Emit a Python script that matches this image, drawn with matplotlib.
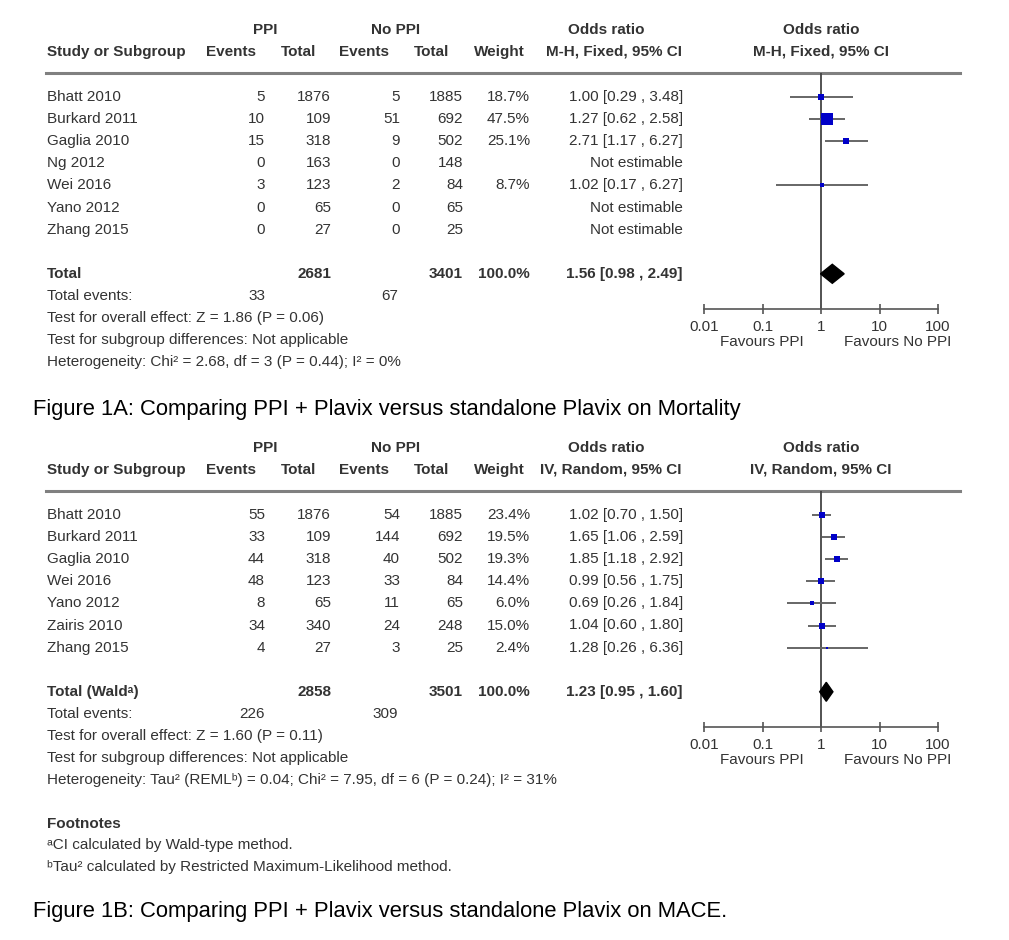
import matplotlib
matplotlib.use('Agg')
import matplotlib.pyplot as plt

plt.rcParams['font.family'] = ['Liberation Sans', 'DejaVu Sans']

# Figure 1A - mortality, M-H fixed
studies_a = ['Bhatt 2010', 'Burkard 2011', 'Gaglia 2010', 'Ng 2012', 'Wei 2016', 'Yano 2012', 'Zhang 2015']
ppi_events_a = [5, 10, 15, 0, 3, 0, 0]
ppi_total_a = [1876, 109, 318, 163, 123, 65, 27]
noppi_events_a = [5, 51, 9, 0, 2, 0, 0]
noppi_total_a = [1885, 692, 502, 148, 84, 65, 25]
weight_a = [18.7, 47.5, 25.1, None, 8.7, None, None]
or_a = [1.00, 1.27, 2.71, None, 1.02, None, None]
lo_a = [0.29, 0.62, 1.17, None, 0.17, None, None]
hi_a = [3.48, 2.58, 6.27, None, 6.27, None, None]
totals_a = [2681, 3401]
events_a = [33, 67]
pooled_a = [1.56, 0.98, 2.49]
stats_a = ['Test for overall effect: Z = 1.86 (P = 0.06)',
           'Test for subgroup differences: Not applicable',
           'Heterogeneity: Chi² = 2.68, df = 3 (P = 0.44); I² = 0%']

# Figure 1B - MACE, IV random
studies_b = ['Bhatt 2010', 'Burkard 2011', 'Gaglia 2010', 'Wei 2016', 'Yano 2012', 'Zairis 2010', 'Zhang 2015']
ppi_events_b = [55, 33, 44, 48, 8, 34, 4]
ppi_total_b = [1876, 109, 318, 123, 65, 340, 27]
noppi_events_b = [54, 144, 40, 33, 11, 24, 3]
noppi_total_b = [1885, 692, 502, 84, 65, 248, 25]
weight_b = [23.4, 19.5, 19.3, 14.4, 6.0, 15.0, 2.4]
or_b = [1.02, 1.65, 1.85, 0.99, 0.69, 1.04, 1.28]
lo_b = [0.70, 1.06, 1.18, 0.56, 0.26, 0.60, 0.26]
hi_b = [1.50, 2.59, 2.92, 1.75, 1.84, 1.80, 6.36]
totals_b = [2858, 3501]
events_b = [226, 309]
pooled_b = [1.23, 0.95, 1.60]
stats_b = ['Test for overall effect: Z = 1.60 (P = 0.11)',
           'Test for subgroup differences: Not applicable',
           'Heterogeneity: Tau² (REMLᵇ) = 0.04; Chi² = 7.95, df = 6 (P = 0.24); I² = 31%']

ticks = [0.01, 0.1, 1, 10, 100]
tick_labels = ['0.01', '0.1', '1', '10', '100']

W, H = 1009, 940
TXT = '#333333'
BLUE = '#0000c8'
PITCH = 22.1
FS = 11

fig = plt.figure(figsize=(W / 100, H / 100), dpi=100)
tab = fig.add_axes([0, 0, 1, 1])
tab.set_xlim(0, W)
tab.set_ylim(H, 0)
tab.axis('off')


def t(x, y, s, ha='left', bold=False, size=FS, color=TXT):
    tab.text(x, y, s, ha=ha, va='center', fontsize=size, color=color,
             fontweight='bold' if bold else 'normal')


def fmt_ci(o, l, h):
    return '%.2f [%.2f , %.2f]' % (o, l, h)


def panel(top, method, studies, e1, n1, e2, n2, wt, ors, los, his,
          totals, events, pooled, total_label, stats, side):
    h2 = top + 22
    rule = top + 43
    row0 = top + 67
    # headers
    t(265, top, 'PPI', 'center', True)
    t(396, top, 'No PPI', 'center', True)
    t(606, top, 'Odds ratio', 'center', True)
    t(821, top, 'Odds ratio', 'center', True)
    t(47, h2, 'Study or Subgroup', bold=True)
    t(256, h2, 'Events', 'right', True)
    t(316, h2, 'Total', 'right', True)
    t(389, h2, 'Events', 'right', True)
    t(449, h2, 'Total', 'right', True)
    t(525, h2, 'Weight', 'right', True)
    t(682, h2, method, 'right', True)
    t(821, h2, method, 'center', True)
    tab.plot([46, 960], [rule, rule], color='#808080', lw=2.2)

    for i, name in enumerate(studies):
        y = row0 + i * PITCH
        t(47, y, name)
        t(265, y, str(e1[i]), 'right')
        t(331, y, str(n1[i]), 'right')
        t(400, y, str(e2[i]), 'right')
        t(463, y, str(n2[i]), 'right')
        if wt[i] is not None:
            t(530, y, '%.1f%%' % wt[i], 'right')
            t(683, y, fmt_ci(ors[i], los[i], his[i]), 'right')
        else:
            t(683, y, 'Not estimable', 'right')

    y = row0 + 8 * PITCH
    t(47, y, total_label, bold=True)
    t(331, y, str(totals[0]), 'right', True)
    t(463, y, str(totals[1]), 'right', True)
    t(530, y, '100.0%', 'right', True)
    t(683, y, fmt_ci(*pooled), 'right', True)
    y = row0 + 9 * PITCH
    t(47, y, 'Total events:')
    t(265, y, str(events[0]), 'right')
    t(398, y, str(events[1]), 'right')
    for k, s in enumerate(stats):
        t(47, row0 + (10 + k) * PITCH, s)

    # forest plot
    ymax = 9.6
    ymin = (rule - row0) / PITCH
    bottom = row0 + ymax * PITCH
    ax = fig.add_axes([704 / W, 1 - bottom / H, 234 / W, (bottom - rule) / H])
    ax.patch.set_alpha(0)
    ax.set_xscale('log')
    ax.set_xlim(0.01, 100)
    ax.set_ylim(ymax, ymin)
    for s in ['top', 'left', 'right']:
        ax.spines[s].set_visible(False)
    ax.spines['bottom'].set_color('#555555')
    ax.spines['bottom'].set_linewidth(1.2)
    ax.set_yticks([])
    ax.set_xticks(ticks)
    ax.set_xticklabels(tick_labels)
    ax.minorticks_off()
    ax.tick_params(axis='x', direction='inout', length=7, width=1.2, color='#555555',
                   labelsize=FS, labelcolor=TXT, pad=4.5)
    ax.axvline(1, color='#444444', lw=1.3, zorder=1)
    for i in range(len(studies)):
        if ors[i] is None:
            continue
        ax.hlines(i, los[i], his[i], color='#666666', lw=1.4, zorder=2)
        ax.plot(ors[i], i, marker='s', ms=side(wt[i]) * 0.72, color=BLUE,
                markeredgewidth=0, zorder=3)
    est, lo, hi = pooled
    ax.fill([lo, est, hi, est], [8, 8 - 0.43, 8, 8 + 0.43], color='black', zorder=3)

    t(762, bottom + 33, 'Favours PPI', 'center')
    t(898, bottom + 33, 'Favours No PPI', 'center')


panel(30, 'M-H, Fixed, 95% CI', studies_a, ppi_events_a, ppi_total_a, noppi_events_a,
      noppi_total_a, weight_a, or_a, lo_a, hi_a, totals_a, events_a, pooled_a,
      'Total', stats_a, lambda w: 0.21 * w + 1.6)
tab.text(33, 410, 'Figure 1A: Comparing PPI + Plavix versus standalone Plavix on Mortality',
         fontsize=15.85, color='black', va='center')

panel(448, 'IV, Random, 95% CI', studies_b, ppi_events_b, ppi_total_b, noppi_events_b,
      noppi_total_b, weight_b, or_b, lo_b, hi_b, totals_b, events_b, pooled_b,
      'Total (Waldᵃ)', stats_b, lambda w: 1.2 * w ** 0.5 + 0.9)

t(47, 824, 'Footnotes', bold=True)
t(47, 845, 'ᵃCI calculated by Wald-type method.')
t(47, 867, 'ᵇTau² calculated by Restricted Maximum-Likelihood method.')
tab.text(33, 912, 'Figure 1B: Comparing PPI + Plavix versus standalone Plavix on MACE.',
         fontsize=15.85, color='black', va='center')

fig.savefig('out.png', dpi=100)
